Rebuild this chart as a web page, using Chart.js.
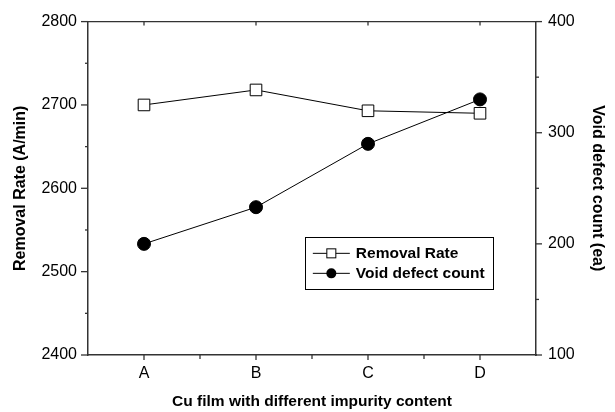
<!DOCTYPE html>
<html>
<head>
<meta charset="utf-8">
<script src="https://cdn.jsdelivr.net/npm/chart.js@4/dist/chart.umd.min.js"></script>
<style>
  html, body { margin: 0; padding: 0; background: #fff; }
  canvas { display: block; }
</style>
</head>
<body>
<canvas id="c" width="615" height="412"></canvas>
<script>
// ---- data ----
const categories = ['A', 'B', 'C', 'D'];
const removalRate = [2700, 2718, 2693, 2690];
const voidDefectCount = [200, 233, 290, 330];
const seriesNames = ['Removal Rate', 'Void defect count'];
const leftAxisRange = [2400, 2800];
const rightAxisRange = [100, 400];

const FONT = '"Liberation Sans", Arial, Helvetica, sans-serif';
const AXIS_COLOR = '#333';

const axisTicks = {
  id: 'axisTicks',
  afterDraw(chart) {
    const ctx = chart.ctx, a = chart.chartArea;
    const yL = chart.scales.y, yR = chart.scales.y1, x = chart.scales.x;
    ctx.save();
    ctx.strokeStyle = AXIS_COLOR;
    ctx.lineWidth = 1.3;
    const seg = (x1, y1, x2, y2) => { ctx.beginPath(); ctx.moveTo(x1, y1); ctx.lineTo(x2, y2); ctx.stroke(); };
    // top frame line
    seg(a.left, a.top, a.right, a.top);
    yL.ticks.forEach(t => {
      const p = yL.getPixelForValue(t.value);
      const len = t.value % 100 === 0 ? 7 : 3;
      seg(a.left - len, p, a.left, p);
    });
    yR.ticks.forEach(t => {
      const p = yR.getPixelForValue(t.value);
      const len = t.value % 100 === 0 ? 6 : 3;
      seg(a.right, p, a.right + len, p);
    });
    categories.forEach((c, i) => {
      const p = x.getPixelForValue(i);
      seg(p, a.bottom, p, a.bottom + 5);
      seg(p, a.top, p, a.top + 4);
      if (i < categories.length - 1) {
        const q = x.getPixelForValue(i + 0.5);
        seg(q, a.bottom, q, a.bottom + 4);
      }
    });
    ctx.restore();
  }
};

const legendBox = {
  id: 'legendBox',
  afterDraw(chart) {
    const ctx = chart.ctx, a = chart.chartArea;
    const w = a.right - a.left, h = a.bottom - a.top;
    const left = a.left + 0.484 * w, right = a.left + 0.904 * w;
    const top = a.top + 0.645 * h, bottom = a.top + 0.800 * h;
    ctx.save();
    ctx.strokeStyle = '#000';
    ctx.lineWidth = 1;
    ctx.strokeRect(Math.round(left) + 0.5, Math.round(top) + 0.5, Math.round(right - left), Math.round(bottom - top));
    const rows = [top + 16.7, top + 36.7];
    chart.data.datasets.forEach((ds, i) => {
      const y = rows[i];
      ctx.strokeStyle = '#000';
      ctx.lineWidth = 1;
      ctx.beginPath(); ctx.moveTo(left + 8, y); ctx.lineTo(left + 45, y); ctx.stroke();
      const mx = left + 26.5;
      if (ds.pointStyle === 'rect') {
        ctx.fillStyle = '#fff';
        ctx.fillRect(mx - 4.5, y - 4.5, 9, 9);
        ctx.strokeRect(mx - 4.5, y - 4.5, 9, 9);
      } else {
        ctx.fillStyle = '#000';
        ctx.beginPath(); ctx.arc(mx, y, 5, 0, Math.PI * 2); ctx.fill();
      }
      ctx.fillStyle = '#000';
      ctx.font = 'bold 15.5px ' + FONT;
      ctx.textBaseline = 'middle';
      ctx.textAlign = 'left';
      ctx.fillText(ds.label, left + 51, y + 0.5);
    });
    ctx.restore();
  }
};

new Chart(document.getElementById('c'), {
  type: 'line',
  data: {
    labels: categories,
    datasets: [
      {
        label: seriesNames[0],
        data: removalRate,
        yAxisID: 'y',
        borderColor: '#000',
        borderWidth: 1,
        pointStyle: 'rect',
        pointRadius: 8.2,
        pointBackgroundColor: '#fff',
        pointBorderColor: '#000',
        pointBorderWidth: 1,
        tension: 0
      },
      {
        label: seriesNames[1],
        data: voidDefectCount,
        yAxisID: 'y1',
        borderColor: '#000',
        borderWidth: 1,
        pointStyle: 'circle',
        pointRadius: 6.5,
        pointBackgroundColor: '#000',
        pointBorderColor: '#000',
        pointBorderWidth: 1,
        tension: 0
      }
    ]
  },
  options: {
    responsive: false,
    animation: false,
    devicePixelRatio: 1,
    layout: { padding: { top: 17, left: 0, right: 0, bottom: 0 } },
    plugins: { legend: { display: false }, tooltip: { enabled: false } },
    scales: {
      x: {
        type: 'category',
        offset: true,
        grid: { display: true, drawOnChartArea: false, drawTicks: false },
        border: { display: true, color: AXIS_COLOR, width: 1.5 },
        ticks: { color: '#000', font: { family: FONT, size: 16 }, padding: 9, maxRotation: 0 },
        title: { display: true, text: 'Cu film with different impurity content', color: '#000',
                 font: { family: FONT, size: 15.5, weight: 'bold' }, padding: { top: 0, bottom: 1 } },
        afterFit: s => { s.height = 57; }
      },
      y: {
        position: 'left',
        min: leftAxisRange[0], max: leftAxisRange[1],
        grid: { display: true, drawOnChartArea: false, drawTicks: false },
        border: { display: true, color: AXIS_COLOR, width: 1.5 },
        ticks: { stepSize: 50, color: '#000', font: { family: FONT, size: 16 }, padding: 11,
                 callback: v => (v % 100 === 0 ? v : '') },
        title: { display: true, text: 'Removal Rate (A/min)', color: '#000',
                 font: { family: FONT, size: 16, weight: 'bold' }, padding: { top: 11, bottom: 0 } },
        afterFit: s => { s.width = 88; }
      },
      y1: {
        position: 'right',
        min: rightAxisRange[0], max: rightAxisRange[1],
        grid: { display: true, drawOnChartArea: false, drawTicks: false },
        border: { display: true, color: AXIS_COLOR, width: 1.5 },
        ticks: { stepSize: 50, color: '#000', font: { family: FONT, size: 16 }, padding: 12,
                 callback: v => (v % 100 === 0 ? v : '') },
        title: { display: true, text: 'Void defect count (ea)', color: '#000',
                 font: { family: FONT, size: 16, weight: 'bold' }, padding: { top: 8, bottom: 0 } },
        afterFit: s => { s.width = 79; }
      }
    }
  },
  plugins: [axisTicks, legendBox]
});
</script>
</body>
</html>
